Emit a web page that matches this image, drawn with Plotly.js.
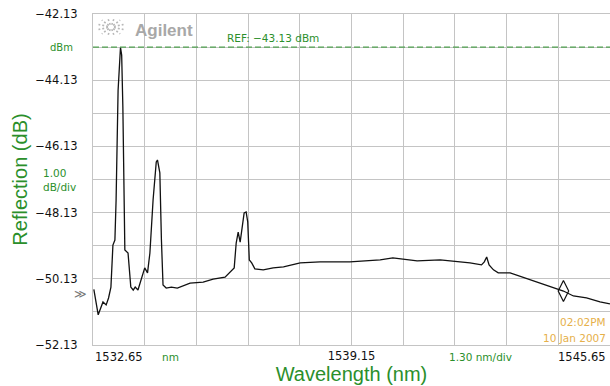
<!DOCTYPE html>
<html>
<head>
<meta charset="utf-8">
<script src="https://cdn.plot.ly/plotly-3.0.1.min.js"></script>
<style>html,body{margin:0;padding:0;background:#fff;}#chart{width:610px;height:386px;}</style>
</head>
<body>
<div id="chart"></div>
<script>
// ---- data ----
const wavelength = [1532.67,1532.78,1532.90,1532.98,1533.04,1533.10,1533.15,1533.20,1533.23,1533.28,1533.34,1533.37,1533.40,1533.45,1533.53,1533.60,1533.66,1533.71,1533.78,1533.86,1533.95,1534.02,1534.08,1534.16,1534.24,1534.27,1534.33,1534.37,1534.41,1534.49,1534.62,1534.77,1534.84,1535.09,1535.42,1535.67,1535.97,1536.10,1536.20,1536.25,1536.30,1536.35,1536.39,1536.45,1536.50,1536.54,1536.58,1536.64,1536.72,1536.93,1537.18,1537.35,1537.44,1537.86,1538.36,1539.11,1539.44,1539.87,1540.19,1540.45,1540.80,1541.38,1541.63,1542.13,1542.42,1542.49,1542.55,1542.61,1542.72,1542.84,1543.14,1543.47,1543.89,1544.31,1544.48,1544.73,1545.06,1545.40,1545.65];
const reflection = [-50.45,-51.22,-50.83,-50.92,-50.71,-50.38,-49.11,-48.96,-47.75,-44.43,-43.14,-43.37,-44.94,-49.26,-49.35,-50.38,-50.47,-50.38,-50.47,-50.17,-49.80,-49.95,-49.35,-47.75,-46.60,-46.54,-46.93,-48.96,-50.32,-50.41,-50.38,-50.41,-50.38,-50.26,-50.23,-50.14,-50.08,-49.92,-49.80,-49.05,-48.72,-49.02,-48.66,-48.14,-48.11,-48.41,-49.56,-49.65,-49.83,-49.86,-49.80,-49.77,-49.77,-49.65,-49.62,-49.62,-49.59,-49.56,-49.50,-49.53,-49.59,-49.56,-49.59,-49.65,-49.71,-49.62,-49.47,-49.71,-49.86,-49.95,-49.95,-50.08,-50.26,-50.41,-50.50,-50.65,-50.71,-50.83,-50.89];
const markerWavelength = [1544.48];
const markerReflection = [-50.50];
const refLevel = -43.13;
const arrowLevel = -50.59;
const xTickVals = [1532.65,1533.95,1535.25,1536.55,1537.85,1539.15,1540.45,1541.75,1543.05,1544.35,1545.65];
const xTickText = ["","","","","","1539.15","","","","",""];
const yTickVals = [-52.13,-51.13,-50.13,-49.13,-48.13,-47.13,-46.13,-45.13,-44.13,-43.13,-42.13];
const yTickText = ["\u221252.13","","\u221250.13","","\u221248.13","","\u221246.13","","\u221244.13","","\u221242.13"];
const xEdgeLabels = ["1532.65","1545.65"];
const xUnitLabel = "nm";
const xScaleLabel = "1.30 nm/div";
const yUnitLabel = "dBm";
const yScaleLabel = "1.00<br>dB/div";
const refLabel = "REF: \u221243.13 dBm";
const timeLabel = "02:02PM";
const dateLabel = "10 Jan 2007";

const GREEN = "#2b8f2b";
const GRID = "#c4c4c4";
const ORANGE = "#e6b04a";
const SMALL = "DejaVu Sans, Verdana, sans-serif";
const BIG = "Liberation Sans, Arial, sans-serif";

const traces = [
  {x: wavelength, y: reflection, type: "scatter", mode: "lines",
   line: {color: "#111", width: 1.3}, hoverinfo: "x+y"},
  {x: markerWavelength, y: markerReflection, type: "scatter", mode: "markers",
   marker: {symbol: "diamond-tall-open", size: 15, color: "#111", line: {width: 1.2, color: "#111"}}}
];

const shapes = [
  {type: "line", xref: "paper", yref: "y", x0: 0, x1: 1, y0: refLevel, y1: refLevel,
   line: {color: "#4f9f4f", width: 1.3, dash: "6px,3px"}}
];
// Agilent spark logo (decoration)
const cx = 111, cy = 27, W = 517, H = 331, L = 93, T = 14;
for (let k = 0; k < 12; k++) {
  const a = k * Math.PI / 6 + Math.PI / 12;
  const r0 = 3, r1 = 13;
  shapes.push({type: "line", xref: "paper", yref: "paper",
    x0: (cx + r0 * Math.cos(a) - L) / W, x1: (cx + r1 * Math.cos(a) - L) / W,
    y0: 1 - (cy + r0 * 0.75 * Math.sin(a) - T) / H, y1: 1 - (cy + r1 * 0.75 * Math.sin(a) - T) / H,
    line: {color: "#b8b8b8", width: 1.6, dash: "2px,2px"}});
}

const annotations = [
  {text: "Agilent", xref: "paper", yref: "paper", x: (133 - L) / W, y: 1 - (30 - T) / H,
   xanchor: "left", yanchor: "middle", showarrow: false,
   font: {family: BIG, size: 17, color: "#a8a8a8", weight: "bold"}},
  {text: refLabel, xref: "paper", yref: "y", x: (225 - L) / W, y: refLevel,
   xanchor: "left", yanchor: "bottom", yshift: 1, showarrow: false,
   font: {family: SMALL, size: 10.5, color: GREEN}},
  {text: yUnitLabel, xref: "paper", yref: "y", x: 0, y: refLevel, xanchor: "right", xshift: -18,
   yanchor: "middle", showarrow: false, font: {family: SMALL, size: 10, color: GREEN}},
  {text: yScaleLabel, xref: "paper", yref: "y", x: 0, y: -47.13, xanchor: "left", xshift: -52,
   yanchor: "middle", align: "left", showarrow: false, font: {family: SMALL, size: 10.5, color: GREEN}},
  {text: "\u226B", xref: "paper", yref: "y", x: 0, y: arrowLevel, xanchor: "right", xshift: -4,
   yanchor: "middle", showarrow: false, font: {family: SMALL, size: 12, color: "#777"}},
  {text: xEdgeLabels[0], xref: "x", yref: "paper", x: xTickVals[0], y: 0, xanchor: "left",
   yanchor: "top", yshift: -3, showarrow: false, font: {family: SMALL, size: 11.5, color: "#111"}},
  {text: xEdgeLabels[1], xref: "x", yref: "paper", x: xTickVals[10], y: 0, xanchor: "right", xshift: -2,
   yanchor: "top", yshift: -3, showarrow: false, font: {family: SMALL, size: 11.5, color: "#111"}},
  {text: xUnitLabel, xref: "x", yref: "paper", x: (xTickVals[1] + xTickVals[2]) / 2, y: 0,
   yanchor: "top", yshift: -4, showarrow: false, font: {family: SMALL, size: 10.5, color: GREEN}},
  {text: xScaleLabel, xref: "x", yref: "paper", x: (xTickVals[7] + xTickVals[8]) / 2, y: 0,
   yanchor: "top", yshift: -4, showarrow: false, font: {family: SMALL, size: 10.5, color: GREEN}},
  {text: timeLabel, xref: "paper", yref: "paper", x: (608 - L) / W, y: 1 - (322 - T) / H,
   xanchor: "right", yanchor: "middle", showarrow: false, font: {family: SMALL, size: 10.5, color: ORANGE}},
  {text: dateLabel, xref: "paper", yref: "paper", x: (608 - L) / W, y: 1 - (338 - T) / H,
   xanchor: "right", yanchor: "middle", showarrow: false, font: {family: SMALL, size: 10.5, color: ORANGE}}
];

const layout = {
  width: 610, height: 386,
  margin: {l: 93, r: 0, t: 14, b: 41, pad: 0},
  paper_bgcolor: "#fff", plot_bgcolor: "#fff",
  showlegend: false,
  xaxis: {
    range: [1532.649, 1545.651], tickmode: "array", tickvals: xTickVals, ticktext: xTickText,
    showgrid: true, gridcolor: GRID, gridwidth: 1, zeroline: false,
    showline: true, linecolor: GRID, mirror: true, ticks: "",
    tickfont: {family: SMALL, size: 11.5, color: "#111"},
    title: {text: "Wavelength (nm)", font: {family: BIG, size: 20, color: GREEN}, standoff: 2},
    automargin: false, fixedrange: true
  },
  yaxis: {
    range: [-52.131, -42.129], tickmode: "array", tickvals: yTickVals, ticktext: yTickText,
    showgrid: true, gridcolor: GRID, gridwidth: 1, zeroline: false,
    showline: true, linecolor: GRID, mirror: true, ticks: "", ticklabelstandoff: 12,
    tickfont: {family: SMALL, size: 11.5, color: "#111"},
    title: {text: "Reflection (dB)", font: {family: BIG, size: 20, color: GREEN}, standoff: 2},
    automargin: false, fixedrange: true
  },
  shapes: shapes,
  annotations: annotations
};

Plotly.newPlot("chart", traces, layout, {displayModeBar: false, staticPlot: true});
</script>
</body>
</html>
